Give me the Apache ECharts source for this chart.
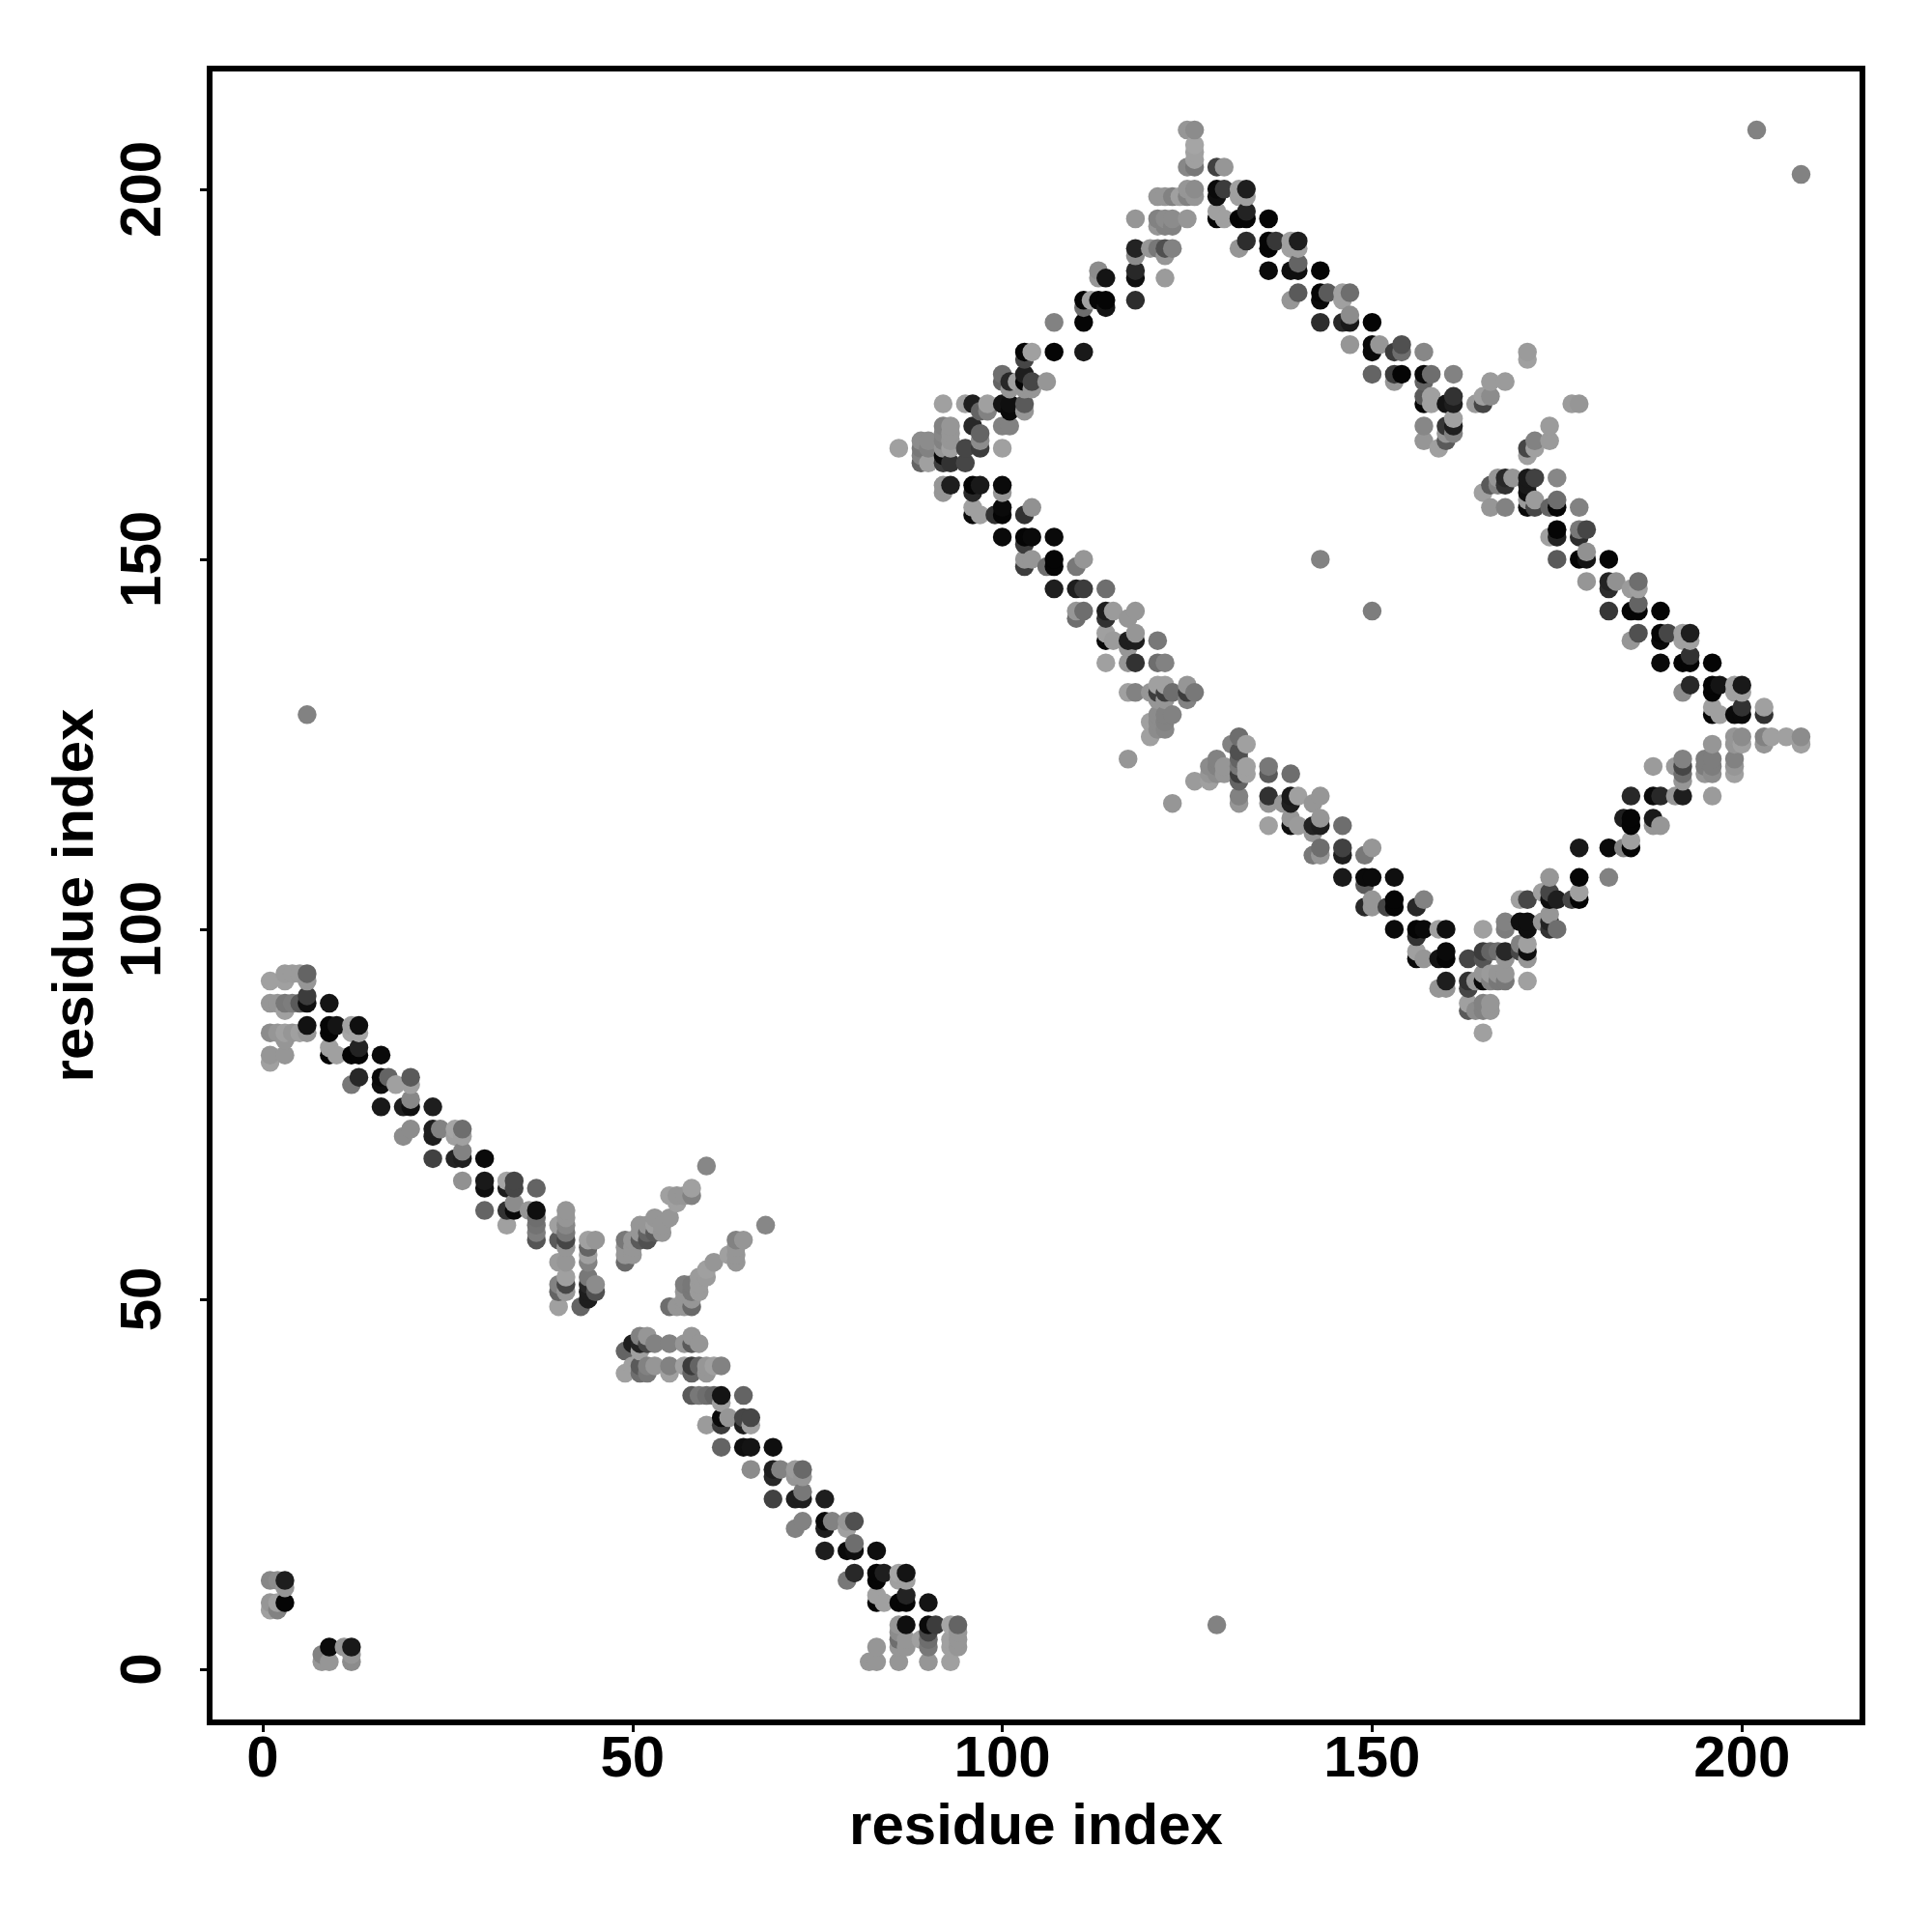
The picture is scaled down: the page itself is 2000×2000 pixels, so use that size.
<!DOCTYPE html>
<html><head><meta charset="utf-8">
<style>html,body{margin:0;padding:0;background:#fff}#c{width:2000px;height:2000px}</style>
<script src="https://cdn.jsdelivr.net/npm/echarts@6/dist/echarts.min.js"></script>
</head><body><div id="c"></div>
<script>
// each entry: [residue i, residue j, grey level of the dot]
const tickValues = [0, 50, 100, 150, 200];
const axisTitle = "residue index";
const cornerDots = [[1,12,135],[2,12,140],[3,12,30],[3,11,150],[1,9,150],[2,9,160],[3,9,5],[1,8,160],[2,8,130],[8,2,130],[8,1,150],[9,1,150],[9,3,10],[11,3,150],[12,3,25],[12,2,150],[12,1,140]];
const strandA = [[3,94,155],[4,94,155],[5,94,155],[6,94,100],[1,93,160],[3,93,160],[6,93,150],[6,91,60],[1,90,150],[2,90,150],[3,90,120],[4,90,125],[5,90,90],[6,90,15],[9,90,20],[3,89,160],[6,87,18],[9,87,5],[10,87,20],[12,87,160],[13,87,15],[1,86,140],[2,86,150],[3,86,160],[4,86,150],[5,86,160],[6,86,150],[9,86,5],[12,86,165],[13,86,165],[3,85,150],[9,84,160],[13,84,35],[1,83,150],[3,83,150],[9,83,5],[10,83,160],[12,83,5],[13,83,5],[16,83,10],[1,82,160],[13,80,40],[16,80,10],[17,80,100],[20,80,90],[12,79,120],[16,79,15],[18,79,160],[20,79,160],[20,77,135],[16,76,25],[19,76,30],[20,76,15],[23,76,30],[20,73,140],[23,73,30],[24,73,130],[26,73,165],[27,73,110],[19,72,140],[23,72,30],[26,72,160],[27,72,160],[27,70,130],[23,69,65],[26,69,35],[27,69,30],[30,69,10],[27,66,145],[30,66,25],[33,66,165],[34,66,70],[30,65,15],[33,65,30],[34,65,70],[37,65,100],[34,63,140],[30,62,100],[33,62,50],[34,62,10],[36,62,150],[37,62,15],[33,60,160],[37,61,110],[37,60,115],[37,59,125],[37,58,85]];
const strandClusterA = [[41,62,150],[41,61,150],[41,60,135],[41,59,120],[41,58,70],[41,57,150],[41,55,150],[41,53,160],[41,52,70],[41,51,150],[40,60,160],[40,58,90],[40,55,155],[40,52,130],[40,51,100],[40,49,160],[44,58,160],[44,57,100],[44,56,160],[44,55,130],[44,53,120],[44,52,40],[44,51,30],[45,58,150],[45,52,140],[45,51,80],[43,49,100],[44,50,30]];
const streaks = [[49,58,120],[49,57,150],[49,56,150],[49,55,105],[50,58,150],[50,57,150],[50,56,150],[51,60,150],[51,59,150],[51,58,90],[52,60,150],[52,59,100],[52,58,80],[53,61,150],[53,60,160],[53,59,90],[54,60,150],[54,59,150],[55,61,150],[55,64,160],[56,64,150],[56,63,160],[57,64,150],[58,64,130],[58,65,160],[60,68,135],[68,60,135],[55,49,110],[56,49,150],[57,49,150],[57,50,150],[58,49,105],[58,50,150],[58,51,120],[58,52,120],[57,51,150],[57,52,125],[59,51,155],[59,52,155],[59,53,155],[60,53,155],[60,54,160],[61,55,150],[63,56,160],[64,58,130],[64,57,150],[64,56,150],[64,55,150],[65,58,150]];
const strandB = [[51,45,130],[52,45,150],[58,45,150],[50,44,30],[51,44,35],[52,44,70],[53,44,130],[55,44,130],[57,44,150],[58,44,90],[59,44,150],[49,43,100],[51,43,160],[50,41,160],[51,41,90],[52,41,130],[53,41,150],[55,41,130],[57,41,160],[58,41,60],[59,41,100],[60,41,150],[61,41,160],[62,41,130],[49,40,160],[51,40,110],[52,40,120],[55,40,160],[58,40,100],[60,40,150],[58,37,90],[59,37,120],[60,37,110],[61,37,100],[62,37,20],[65,37,100],[62,36,160],[62,34,10],[63,34,150],[65,34,70],[66,34,70],[60,33,155],[62,33,60],[65,33,30],[66,33,160],[62,30,100],[65,30,15],[66,30,20],[69,30,15],[66,27,140],[69,27,30],[70,27,130],[72,27,155],[73,27,105],[69,26,40],[72,26,150],[73,26,150],[73,24,120],[69,23,65],[72,23,30],[73,23,30],[76,23,30],[73,20,130],[76,20,10],[77,20,130],[79,20,150],[80,20,80],[72,19,130],[76,19,30],[79,19,160],[80,17,110],[76,16,30],[79,16,10],[80,16,15],[83,16,15],[80,13,40],[83,13,5],[84,13,30],[86,13,165],[87,13,20],[79,12,120],[83,12,5],[86,12,160],[87,12,160],[83,10,160],[87,10,35],[83,9,5],[84,9,160],[86,9,5],[87,9,5],[90,9,20],[86,6,150],[87,6,15],[90,6,10],[91,6,60],[93,6,165],[94,6,100],[86,5,140],[90,5,70],[94,5,150],[86,4,110],[87,4,150],[89,4,160],[90,4,110],[93,4,160],[94,4,150],[83,3,150],[86,3,150],[87,3,150],[90,3,120],[93,3,160],[94,3,150],[82,1,150],[83,1,150],[86,1,150],[90,1,150],[93,1,160]];
const outliers = [[202,208,130],[208,202,130],[6,129,130],[129,6,130],[143,150,130],[150,143,125]];
const ridgeUp = [[125,208,150],[126,208,140],[126,206,165],[126,205,160],[126,204,160],[125,203,135],[126,203,120],[129,203,65],[130,203,150],[125,200,150],[126,200,140],[125,199,130],[126,199,150],[121,199,150],[122,199,150],[123,199,130],[124,199,160],[118,196,150],[121,196,130],[122,196,140],[123,196,140],[125,196,150],[121,195,150],[122,195,130],[123,195,130],[118,192,35],[120,192,150],[121,192,120],[122,192,80],[123,192,130],[118,191,140],[122,191,150],[122,188,155],[118,189,40],[118,188,15],[113,189,140],[113,188,150],[114,188,20],[111,185,5],[112,185,160],[113,185,5],[114,185,5],[114,184,20],[118,185,45],[111,184,110],[111,182,5],[107,182,130],[103,178,5],[104,178,160],[107,178,5],[111,178,25],[103,177,70],[100,175,110],[100,174,100],[101,174,40],[103,175,30],[103,174,5],[102,174,160],[104,174,70],[106,174,150],[103,173,150],[104,173,150],[101,173,150],[92,171,160],[95,171,160],[96,171,30],[98,171,160],[100,171,20],[101,171,15],[103,171,90],[103,170,150],[101,170,10],[97,170,100],[98,170,130],[100,168,130],[101,168,130],[96,168,40],[97,167,100],[97,166,140],[97,165,60],[95,165,70],[92,168,130],[93,168,150],[92,167,135],[93,167,150],[93,166,150],[92,166,130],[93,165,160],[92,164,10],[92,165,150],[100,165,160],[89,166,140],[90,166,140],[89,165,120],[90,165,130],[89,164,130],[89,163,100],[90,163,160],[86,165,160],[92,163,60],[93,163,50],[95,163,70]];
const ridgeDown = [[129,200,10],[129,199,15],[130,200,60],[132,200,160],[133,200,30],[132,199,160],[133,199,160],[129,197,160],[130,196,160],[129,196,5],[133,197,35],[132,196,5],[133,196,5],[136,196,5],[133,193,45],[136,193,5],[137,193,55],[139,193,160],[140,193,30],[132,192,150],[136,192,5],[139,192,160],[140,192,160],[136,189,10],[139,189,15],[140,189,15],[140,190,100],[143,189,5],[140,186,90],[143,186,5],[144,186,90],[146,186,160],[147,186,110],[139,185,150],[143,185,10],[146,185,160],[147,183,140],[143,182,45],[146,182,40],[147,182,25],[150,182,5],[147,179,150],[150,179,10],[151,179,150],[154,179,80],[150,178,10],[153,178,60],[154,178,110],[157,178,135],[150,175,100],[153,175,60],[154,175,5],[157,175,10],[158,175,110],[161,175,130],[153,174,150],[157,174,100],[157,172,90],[158,172,160],[161,172,50],[157,171,5],[158,171,160],[160,171,20],[161,171,30],[164,171,155],[165,171,70],[165,172,160],[166,172,140],[166,174,155],[168,174,155],[171,178,155],[171,177,160],[177,171,155],[178,171,150],[157,168,135],[160,168,55],[161,169,160],[161,168,30],[160,167,150],[161,167,130],[157,166,150],[160,166,90],[159,165,160],[174,168,155],[174,166,155],[172,166,130],[171,165,70],[172,165,160],[171,164,160],[167,161,150],[168,161,40],[169,161,150],[171,161,25],[172,161,65],[175,161,135],[166,160,90],[167,160,130],[168,160,50],[171,160,25],[165,159,160],[171,159,15],[166,157,150],[168,157,130],[171,157,10],[171,158,155],[172,158,155],[172,157,70],[174,157,100],[175,158,110],[175,157,5],[178,157,130],[175,154,5],[178,154,120],[179,154,70],[174,153,160],[175,153,35],[178,153,45],[175,150,90],[178,150,5],[179,151,145],[179,150,20],[182,150,5],[179,147,150],[182,147,35],[183,147,145],[186,147,110],[182,146,45],[185,146,155],[186,146,160],[186,144,100],[182,143,55],[185,143,5],[186,143,5],[189,143,5],[186,140,80],[189,140,5],[190,140,70],[192,140,160],[193,140,30],[185,139,150],[189,139,10],[192,139,160],[193,139,160],[193,137,50],[189,136,10],[192,136,5],[193,136,5],[196,136,5],[193,133,40],[196,133,5],[197,133,20],[199,133,160],[200,133,25],[192,132,140],[196,132,5],[199,132,160],[200,132,160],[196,130,160],[200,130,50],[203,130,160],[196,129,5],[197,129,160],[199,129,10],[200,129,10],[203,129,50]];
const innerDown = [[92,160,150],[93,160,30],[92,159,150],[96,160,5],[97,160,25],[96,159,40],[100,160,10],[100,159,150],[96,157,160],[97,156,160],[96,156,10],[100,157,10],[100,156,5],[99,156,50],[103,156,50],[104,157,145],[100,153,10],[103,153,5],[104,153,10],[107,153,10],[103,152,60],[103,150,150],[104,150,150],[107,150,5],[111,150,150],[103,149,60],[106,149,110],[107,149,5],[110,149,120],[107,146,30],[110,146,30],[111,146,60],[114,146,110],[110,143,150],[111,143,110],[114,143,30],[115,143,155],[118,143,150],[110,142,110],[114,142,50],[117,142,150],[114,140,160],[118,140,150],[114,139,10],[115,139,155],[117,139,30],[118,139,30],[121,139,120],[117,138,150],[114,136,160],[117,136,150],[118,136,50],[121,136,110],[122,136,130],[121,133,160],[122,133,160],[125,133,150],[117,132,160],[118,132,130],[120,132,150],[121,132,60],[122,132,60],[123,132,110],[125,132,60],[126,132,120],[121,131,150],[122,131,150],[125,131,130],[121,129,140],[122,129,130],[123,129,130],[120,128,160],[121,128,140],[122,128,130],[121,127,140],[122,127,135],[120,126,160],[117,123,150],[123,117,150]];
const innerCluster = [[132,126,110],[131,125,130],[133,125,160],[132,124,80],[132,123,100],[132,122,120],[132,121,60],[133,122,160],[133,121,160],[129,123,130],[128,122,140],[129,122,130],[128,121,150],[129,121,140],[130,122,150],[130,121,150],[126,120,155],[128,120,160],[132,120,100],[132,118,130],[132,117,150],[136,122,120],[136,121,90],[139,121,110],[136,118,50],[136,117,150],[136,114,160],[139,118,25],[139,117,30],[140,118,160],[138,117,150],[143,118,150],[142,117,150],[139,115,150],[140,114,155],[139,114,15],[142,114,35],[143,114,30],[143,115,150],[142,113,150],[146,114,110],[142,110,120],[143,111,110],[143,110,150],[146,111,65],[146,110,30],[149,110,120],[150,111,150],[146,107,25],[149,107,10],[150,107,10],[153,107,15],[149,106,90],[150,104,150],[149,103,40],[150,103,150],[152,103,70],[153,104,5],[153,103,5],[156,103,40],[157,104,130]];
const valley = [[153,100,10],[156,100,5],[157,100,10],[159,100,160],[160,100,15],[165,100,160],[156,99,50],[156,97,160],[157,96,150],[156,96,10],[159,96,20],[160,97,10],[160,96,5],[163,96,70],[165,97,60],[166,97,100],[167,97,110],[168,97,40],[165,96,85],[168,96,150],[160,93,30],[159,92,150],[160,92,150],[163,93,50],[163,92,70],[164,93,150],[165,93,10],[165,94,150],[166,94,155],[167,94,150],[168,94,150],[166,93,130],[167,93,120],[168,93,120],[171,93,160],[163,90,160],[165,90,130],[166,90,150],[163,89,90],[164,89,140],[165,89,130],[166,89,150],[165,86,160],[168,101,130],[168,100,125],[170,101,15],[171,101,15],[171,100,15],[170,98,130],[170,97,70],[171,98,160],[171,97,15],[171,96,150],[174,101,35],[173,101,150],[174,102,150],[174,100,50],[175,100,110]];
const ridgeRight = [[170,104,160],[171,104,70],[174,107,150],[173,105,160],[174,105,70],[174,104,15],[175,104,30],[177,104,70],[178,111,25],[178,107,5],[178,105,160],[178,104,5],[182,111,10],[184,111,130],[185,111,5],[185,112,160],[182,107,130],[184,115,30],[185,115,5],[185,114,5],[188,115,25],[188,114,150],[189,114,150],[185,118,40],[188,118,10],[189,118,40],[191,118,150],[192,118,30],[196,118,155],[188,122,155],[191,122,155],[192,123,130],[192,122,70],[192,121,110],[192,120,150],[195,123,125],[196,123,125],[195,122,125],[196,122,125],[195,121,150],[196,121,140],[199,123,130],[199,122,150],[199,121,160],[196,125,150],[199,126,150],[200,126,140],[199,125,150],[200,125,160],[203,126,130],[203,125,150],[204,126,160],[206,126,160],[208,126,140],[208,125,160]];

const dots = [].concat(cornerDots, strandA, strandClusterA, streaks, strandB, outliers, ridgeUp, ridgeDown, innerDown, innerCluster, valley, ridgeRight)
  .sort((a, b) => a[0] - b[0] || a[1] - b[1]);

const font = '"Liberation Sans", Arial, sans-serif';
function axis(extra) {
  return Object.assign({
    type: 'value', min: -7.18, max: 216.3, splitLine: {show: false},
    axisLine: {show: false, onZero: false},
    axisTick: {show: true, length: 10, inside: false, customValues: tickValues, lineStyle: {color: '#000', width: 3}},
    name: axisTitle, nameLocation: 'middle',
    nameTextStyle: {color: '#000', fontFamily: font, fontWeight: 'bold', fontSize: 60}
  }, extra);
}
const chart = echarts.init(document.getElementById('c'), null, {renderer: 'canvas', width: 2000, height: 2000});
chart.setOption({
  animation: false, backgroundColor: '#fff',
  grid: {left: 217, top: 71, width: 1711, height: 1712, show: true, backgroundColor: 'transparent', borderColor: '#000', borderWidth: 6},
  xAxis: axis({nameGap: 79,
    axisLabel: {customValues: tickValues, color: '#000', fontFamily: font, fontWeight: 'bold', fontSize: 60, margin: 9}}),
  yAxis: axis({nameGap: 108,
    axisLabel: {customValues: tickValues, rotate: 90, color: '#000', fontFamily: font, fontWeight: 'bold', fontSize: 60, margin: 38}}),
  series: [{
    type: 'scatter', data: dots, symbol: 'circle', symbolSize: 19.5, large: false,
    itemStyle: {opacity: 1, color: p => { const g = p.value[2]; return 'rgb(' + g + ',' + g + ',' + g + ')'; }},
    emphasis: {disabled: true}
  }]
});
</script></body></html>
